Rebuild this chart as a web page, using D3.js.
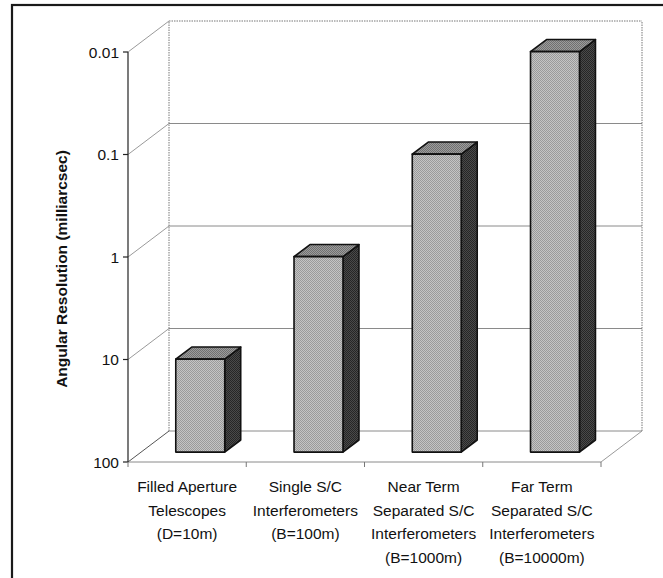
<!DOCTYPE html>
<html>
<head>
<meta charset="utf-8">
<script src="https://cdn.jsdelivr.net/npm/d3@7"></script>
<style>
  html, body { margin: 0; padding: 0; background: #fff; }
  svg { display: block; font-family: "Liberation Sans", Arial, sans-serif; }
</style>
</head>
<body>
<svg id="chart" width="663" height="578"></svg>
<script>
// Angular resolution reached by each class of instrument (milliarcsec)
const categories = [
  ["Filled Aperture", "Telescopes", "(D=10m)"],
  ["Single S/C", "Interferometers", "(B=100m)"],
  ["Near Term", "Separated S/C", "Interferometers", "(B=1000m)"],
  ["Far Term", "Separated S/C", "Interferometers", "(B=10000m)"]
];
const resolutionMas = [12.4, 1.24, 0.124, 0.0124];
const tickValues = [100, 10, 1, 0.1, 0.01];
const tickLabels = ["100", "10", "1", "0.1", "0.01"];
const axisTitle = "Angular Resolution (milliarcsec)";

const svg = d3.select("#chart");

// Plot box (front plane) and the oblique depth of the 3-D room
const plotLeft = 128, plotRight = 601, plotTop = 52, plotBottom = 462;
const depthX = 41, depthY = -31;
const barFront = 0.32, barBack = 0.71;   // bar depth, as fractions of the room depth

const x = d3.scaleBand().domain(d3.range(categories.length)).range([plotLeft, plotRight]).paddingInner(0).paddingOuter(0);
const y = d3.scaleLog().domain([100, 0.01]).range([plotBottom, plotTop]);

// project a (x, value, depth) point onto the page
const P = (px, v, d) => [px + d * depthX, y(v) + d * depthY];
const line = d3.line();

// outer frame
svg.append("rect").attr("x", 12).attr("y", 5).attr("width", 700).attr("height", 640)
  .attr("fill", "none").attr("stroke", "#1a1a1a").attr("stroke-width", 2.2);

// halftone-like fills for the bar faces
const defs = svg.append("defs");
function dither(id, a, b) {
  const p = defs.append("pattern").attr("id", id).attr("width", 2).attr("height", 2)
    .attr("patternUnits", "userSpaceOnUse");
  p.append("rect").attr("width", 2).attr("height", 2).attr("fill", a);
  p.append("rect").attr("width", 1).attr("height", 1).attr("fill", b);
  p.append("rect").attr("x", 1).attr("y", 1).attr("width", 1).attr("height", 1).attr("fill", b);
}
dither("frontFill", "#c4c4c4", "#9a9a9a");
dither("topFill", "#9c9c9c", "#707070");
dither("sideFill", "#4a4a4a", "#262626");

const grid = svg.append("g");
const [minV, maxV] = y.domain();

// back wall gridlines
tickValues.forEach((v, i) => {
  const a = P(plotLeft, v, 1), b = P(plotRight, v, 1);
  grid.append("path").attr("d", line([a, b]))
    .attr("stroke", i === tickValues.length - 1 ? "#777" : "#8a8a8a")
    .attr("stroke-width", 1)
    .attr("stroke-dasharray", i === tickValues.length - 1 ? "1.5,1" : null)
    .attr("fill", "none");
});
// left wall: oblique gridlines
tickValues.forEach((v, i) => {
  grid.append("path").attr("d", line([P(plotLeft, v, 0), P(plotLeft, v, 1)]))
    .attr("stroke", i === 0 ? "#555" : "#9a9a9a").attr("stroke-width", 1).attr("fill", "none");
});
// back wall edges (dotted)
grid.append("path").attr("d", line([P(plotLeft, minV, 1), P(plotLeft, maxV, 1)]))
  .attr("stroke", "#777").attr("stroke-dasharray", "1.5,1").attr("fill", "none");
grid.append("path").attr("d", line([P(plotRight, minV, 1), P(plotRight, maxV, 1)]))
  .attr("stroke", "#777").attr("stroke-dasharray", "1.5,1").attr("fill", "none");
// floor: right edge and front edge
grid.append("path").attr("d", line([P(plotRight, minV, 0), P(plotRight, minV, 1)]))
  .attr("stroke", "#9a9a9a").attr("fill", "none");
grid.append("path").attr("d", line([P(plotLeft, minV, 0), P(plotRight, minV, 0)]))
  .attr("stroke", "#8a8a8a").attr("fill", "none");

// bars
const bw = x.bandwidth() * 0.414;
const bars = svg.append("g").attr("stroke", "#111").attr("stroke-width", 1.6).attr("stroke-linejoin", "round");
resolutionMas.forEach((v, i) => {
  const x0 = x(i) + (x.bandwidth() - bw) / 2, x1 = x0 + bw;
  const f = barFront, k = barBack;
  // side face
  bars.append("path").attr("fill", "url(#sideFill)")
    .attr("d", line([P(x1, minV, f), P(x1, minV, k), P(x1, v, k), P(x1, v, f)]) + "Z");
  // top face
  bars.append("path").attr("fill", "url(#topFill)")
    .attr("d", line([P(x0, v, f), P(x0, v, k), P(x1, v, k), P(x1, v, f)]) + "Z");
  // front face
  bars.append("path").attr("fill", "url(#frontFill)")
    .attr("d", line([P(x0, minV, f), P(x1, minV, f), P(x1, v, f), P(x0, v, f)]) + "Z");
});

// value axis (front-left edge)
const axisG = svg.append("g");
axisG.append("path").attr("d", line([[plotLeft, y(minV)], [plotLeft, y(maxV)]]))
  .attr("stroke", "#222").attr("stroke-width", 1.2).attr("fill", "none");
tickValues.forEach((v, i) => {
  axisG.append("path").attr("d", line([[plotLeft - 5, y(v)], [plotLeft, y(v)]]))
    .attr("stroke", "#222").attr("stroke-width", 1.2);
  axisG.append("text").attr("x", plotLeft - 9).attr("y", y(v) + 5.5)
    .attr("text-anchor", "end").attr("font-size", 15.5).attr("fill", "#111")
    .text(tickLabels[i]);
});

// category ticks and labels
const catG = svg.append("g");
d3.range(categories.length + 1).forEach(i => {
  const px = i < categories.length ? x(i) : plotRight;
  catG.append("path").attr("d", line([[px, plotBottom], [px, plotBottom + 5]]))
    .attr("stroke", "#777").attr("stroke-width", 1);
});
categories.forEach((lines, i) => {
  const t = catG.append("text").attr("text-anchor", "middle").attr("font-size", 15.5).attr("fill", "#111");
  lines.forEach((s, j) => {
    t.append("tspan").attr("x", x(i) + x.bandwidth() / 2).attr("y", 492 + j * 23.5).text(s);
  });
});

// axis title
svg.append("text")
  .attr("transform", `translate(67,${(plotTop + plotBottom) / 2 + 12}) rotate(-90)`)
  .attr("text-anchor", "middle").attr("font-size", 15.5).attr("font-weight", "bold").attr("fill", "#111")
  .text(axisTitle);
</script>
</body>
</html>
